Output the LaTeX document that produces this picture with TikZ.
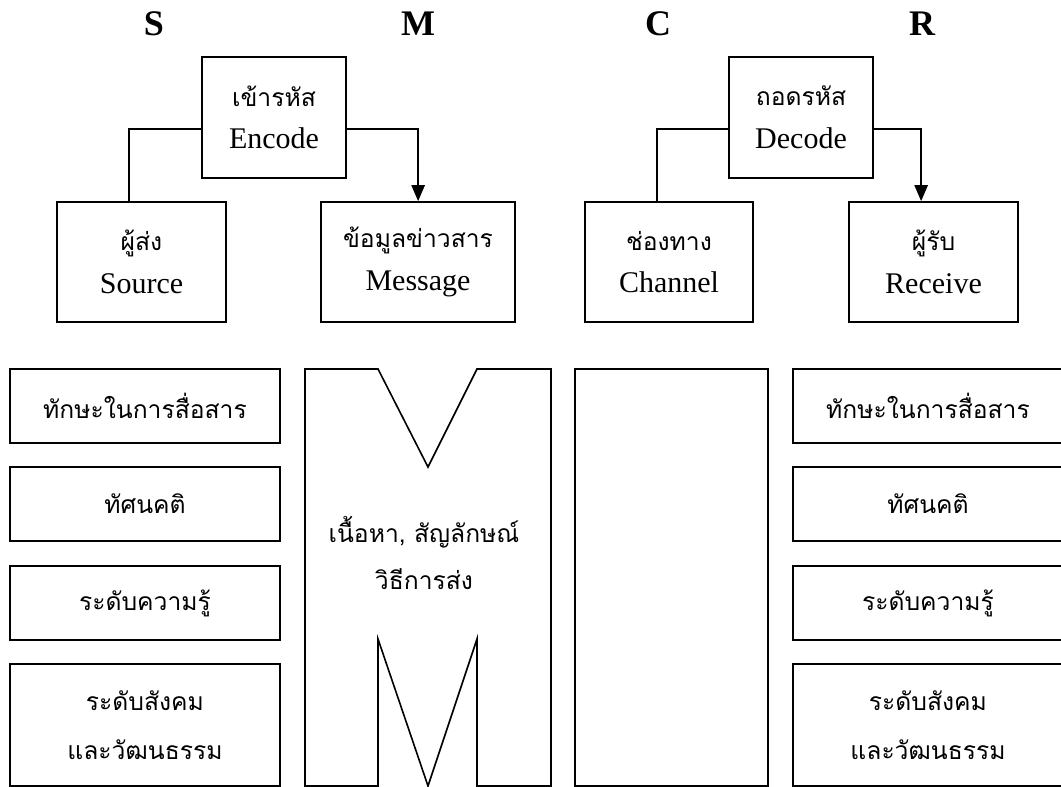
\documentclass[tikz,border=0pt]{standalone}
\usepackage{fontspec}
\setmainfont{Liberation Serif}
\newfontfamily\thaifont[Script=Thai]{Loma}
\usetikzlibrary{arrows.meta}
\usetikzlibrary{calc}

\newcommand\thtxt[1]{{\thaifont\fontsize{18.5}{32}\selectfont #1}}

\begin{document}
\begin{tikzpicture}
[x=0.75pt,y=-0.75pt,
 every node/.style={inner sep=0pt,align=center},
 hdr/.style={font=\fontsize{27}{30}\selectfont\bfseries},
 box/.style={draw,line width=1.3pt,rectangle,font=\fontsize{22.5}{32}\selectfont},
 topbox/.style={box,minimum height=90pt},
 sidebox/.style={box,minimum width=202.5pt,font=\fontsize{22.5}{37}\selectfont},
 link/.style={line width=1.2pt},
 tip/.style={-{Triangle[length=12pt,width=10pt]}}]

  \useasboundingbox (0,0) rectangle (1061,787);

  % letters on top
  \node[hdr] (s) at (154,24) {S};
  \node[hdr] (m) at (418,24) {M};
  \node[hdr] (c) at (658,24) {C};
  \node[hdr] (r) at (922,24) {R};

  % encode / decode row
  \node[box,minimum width=108pt,minimum height=90.75pt] (enc) at (274,117.5) {\thtxt{เข้ารหัส}\\Encode};
  \node[box,minimum width=108pt,minimum height=90.75pt] (dec) at (801,117.5) {\thtxt{ถอดรหัส}\\Decode};

  \node[topbox,minimum width=126.75pt] (src) at (141.5,262) {\thtxt{ผู้ส่ง}\\Source};
  \node[topbox,minimum width=145.5pt] (msg) at (418,262) {\thtxt{ข้อมูลข่าวสาร}\\Message};
  \node[topbox,minimum width=126pt] (chn) at (669,262) {\thtxt{ช่องทาง}\\Channel};
  \node[topbox,minimum width=126.75pt] (rcv) at (933.5,262) {\thtxt{ผู้รับ}\\Receive};

  \foreach \from/\to in {enc/src, dec/chn}
    \draw[link] ($(\from.west)+(0,11.5)$) -| ($(\to.north west)+(73,0)$);
  \foreach \from/\to/\dx in {enc/msg/98, dec/rcv/73}
    \draw[link,tip] ($(\from.east)+(0,11.5)$) -| ($(\to.north west)+(\dx,0)$);

  % left and right columns
  \foreach \side/\xc in {l/145, r/928}{
    \node[sidebox,minimum height=55.5pt] (\side1) at (\xc,406) {\thtxt{ทักษะในการสื่อสาร}};
    \node[sidebox,minimum height=55.5pt] (\side2) at (\xc,504) {\thtxt{ทัศนคติ}};
    \node[sidebox,minimum height=55.5pt] (\side3) at (\xc,603) {\thtxt{ระดับความรู้}};
    \node[sidebox,minimum height=91.5pt] (\side4) at (\xc,725) {\thtxt{ระดับสังคม}\\\thtxt{และวัฒนธรรม}};
  }

  % big M
  \draw[line width=1.2pt] (305,369) -- (378,369) -- (428,467) -- (477,369) -- (551,369)
    -- (551,786) -- (477,786) -- (477,639) -- (428,786) -- (378,639) -- (378,786)
    -- (305,786) -- cycle;
  \node[font=\fontsize{22.5}{35}\selectfont] (mtext) at (424,553) {\thtxt{เนื้อหา, สัญลักษณ์}\\\thtxt{วิธีการส่ง}};

  % channel
  \node[box,minimum width=144.75pt,minimum height=312.75pt] (cbox) at (671.5,577.5) {};

\end{tikzpicture}
\end{document}
